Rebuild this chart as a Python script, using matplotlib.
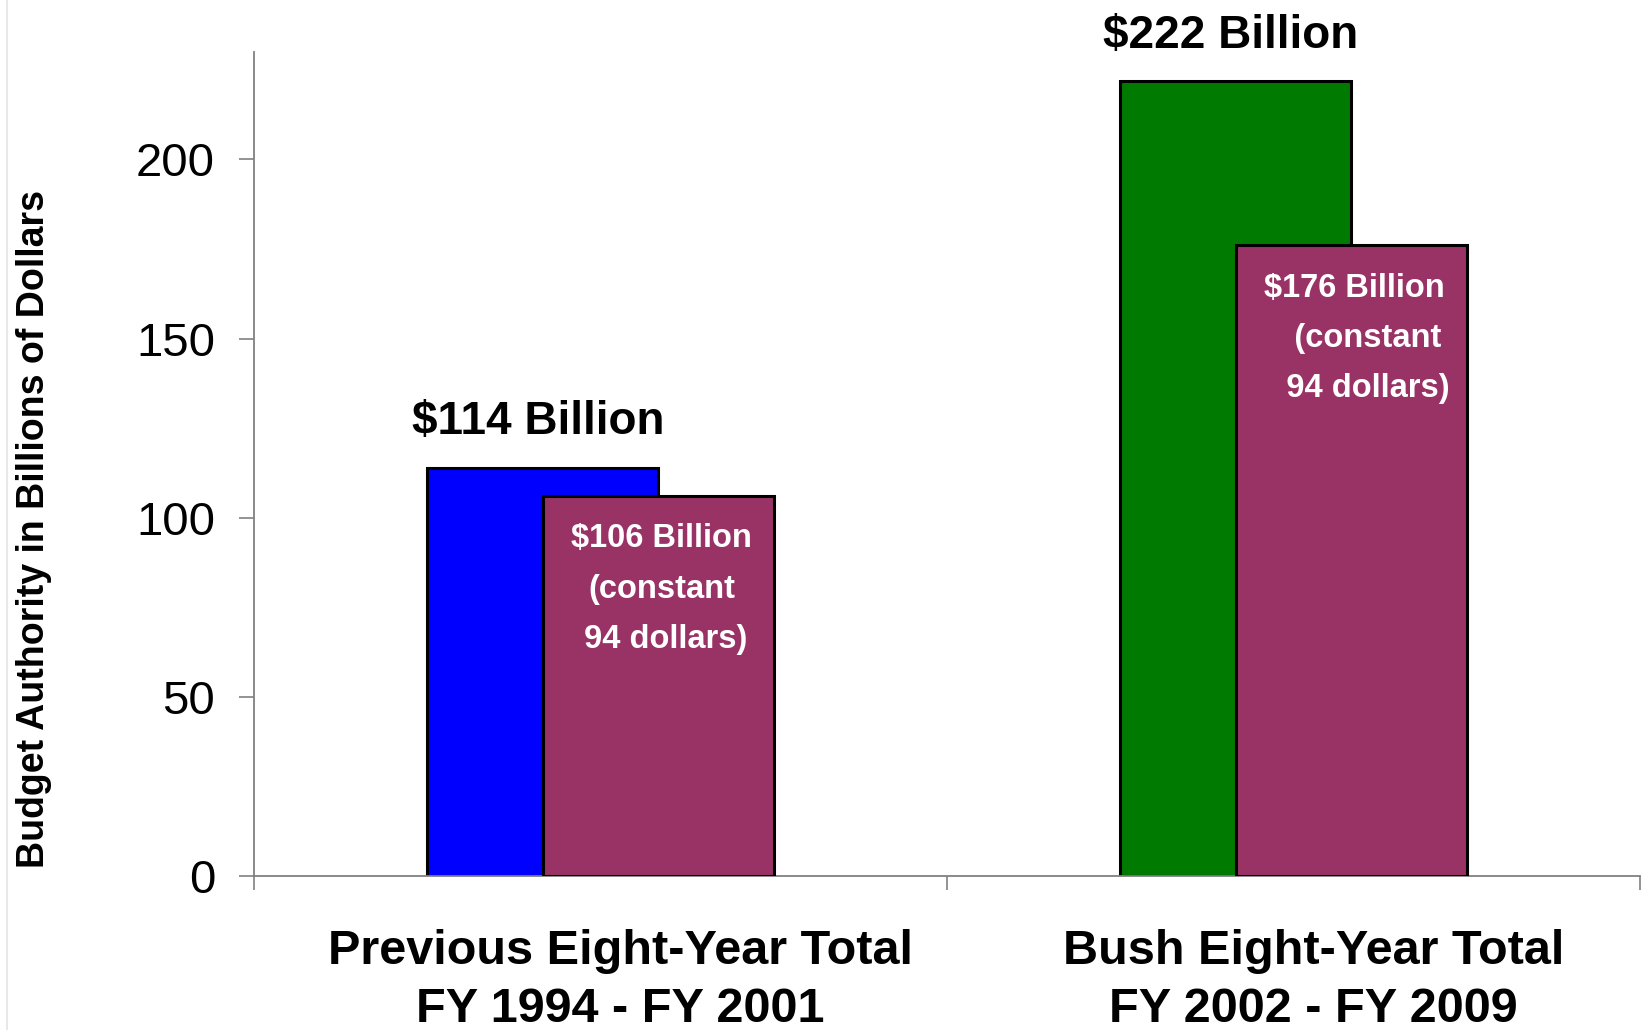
import numpy as np
import matplotlib.pyplot as plt
from matplotlib.lines import Line2D
from matplotlib.transforms import ScaledTranslation

plt.rcParams['font.family'] = ['Liberation Sans', 'DejaVu Sans']

# data
categories = ["Previous Eight-Year Total\nFY 1994 - FY 2001",
              "Bush Eight-Year Total\nFY 2002 - FY 2009"]
nominal = [114, 222]
constant = [106, 176]
nominal_labels = ["$114 Billion", "$222 Billion"]
constant_labels = ["$106 Billion\n(constant\n 94 dollars)",
                   "$176 Billion\n   (constant\n   94 dollars)"]
nominal_colors = ["#0000FF", "#007A00"]
constant_color = "#993366"
y_ticks = [0, 50, 100, 150, 200]


def main() -> None:
    fig = plt.figure(figsize=(16.43, 10.30), dpi=100)
    ax = fig.add_axes([0.1546, 0.1495, 0.8434, 0.80])

    centers = np.arange(len(categories)) + 0.5
    width = 1 / 3
    shift = 1 / 12

    ax.bar(centers - shift, nominal, width, color=nominal_colors,
           edgecolor="black", linewidth=2.2, zorder=2)
    ax.bar(centers + shift, constant, width, color=constant_color,
           edgecolor="black", linewidth=2.2, zorder=3)

    for i in range(len(categories)):
        ax.text(centers[i] - shift - 0.007, nominal[i] + 12.6, nominal_labels[i],
                ha="center", va="center", fontsize=33, fontweight="bold",
                clip_on=False)
        ax.text(centers[i] + shift + 0.005, constant[i] - 7.6, constant_labels[i],
                ha="center", va="top", fontsize=23.5, fontweight="bold",
                color="white", linespacing=1.8, multialignment="center", zorder=4)

    ax.set_xlim(0, len(categories))
    ax.set_ylim(0, 230)
    ax.set_yticks(y_ticks)
    ax.tick_params(axis="y", labelsize=34, length=11, width=1.2,
                   color="#808080", pad=17)
    ax.set_xticks([0, 1, 2])
    ax.set_xticklabels([])
    ax.tick_params(axis="x", which="major", length=10, width=1.2, color="#808080")
    ax.set_xticks(centers, minor=True)
    ax.set_xticklabels(categories, minor=True, fontsize=35, fontweight="bold",
                       linespacing=1.38)
    ax.tick_params(axis="x", which="minor", length=0, pad=38)
    # category labels sit a bit right of the group centre in the original
    for lab in ax.get_xticklabels(minor=True):
        lab.set_transform(lab.get_transform() + ScaledTranslation(0.2, 0, fig.dpi_scale_trans))

    ax.spines["top"].set_visible(False)
    ax.spines["right"].set_visible(False)
    for side in ["left", "bottom"]:
        ax.spines[side].set_color("#808080")
        ax.spines[side].set_linewidth(1.3)

    ax.set_ylabel("Budget Authority in Billions of Dollars", fontsize=27,
                  fontweight="bold")
    ax.yaxis.set_label_coords(-0.146, 0.421)

    # faint slide border on the left
    fig.add_artist(Line2D([0.004, 0.004], [0, 1], color="#e8e8e8", linewidth=1.5))

    fig.savefig("out.png", dpi=100)


if __name__ == "__main__":
    main()
